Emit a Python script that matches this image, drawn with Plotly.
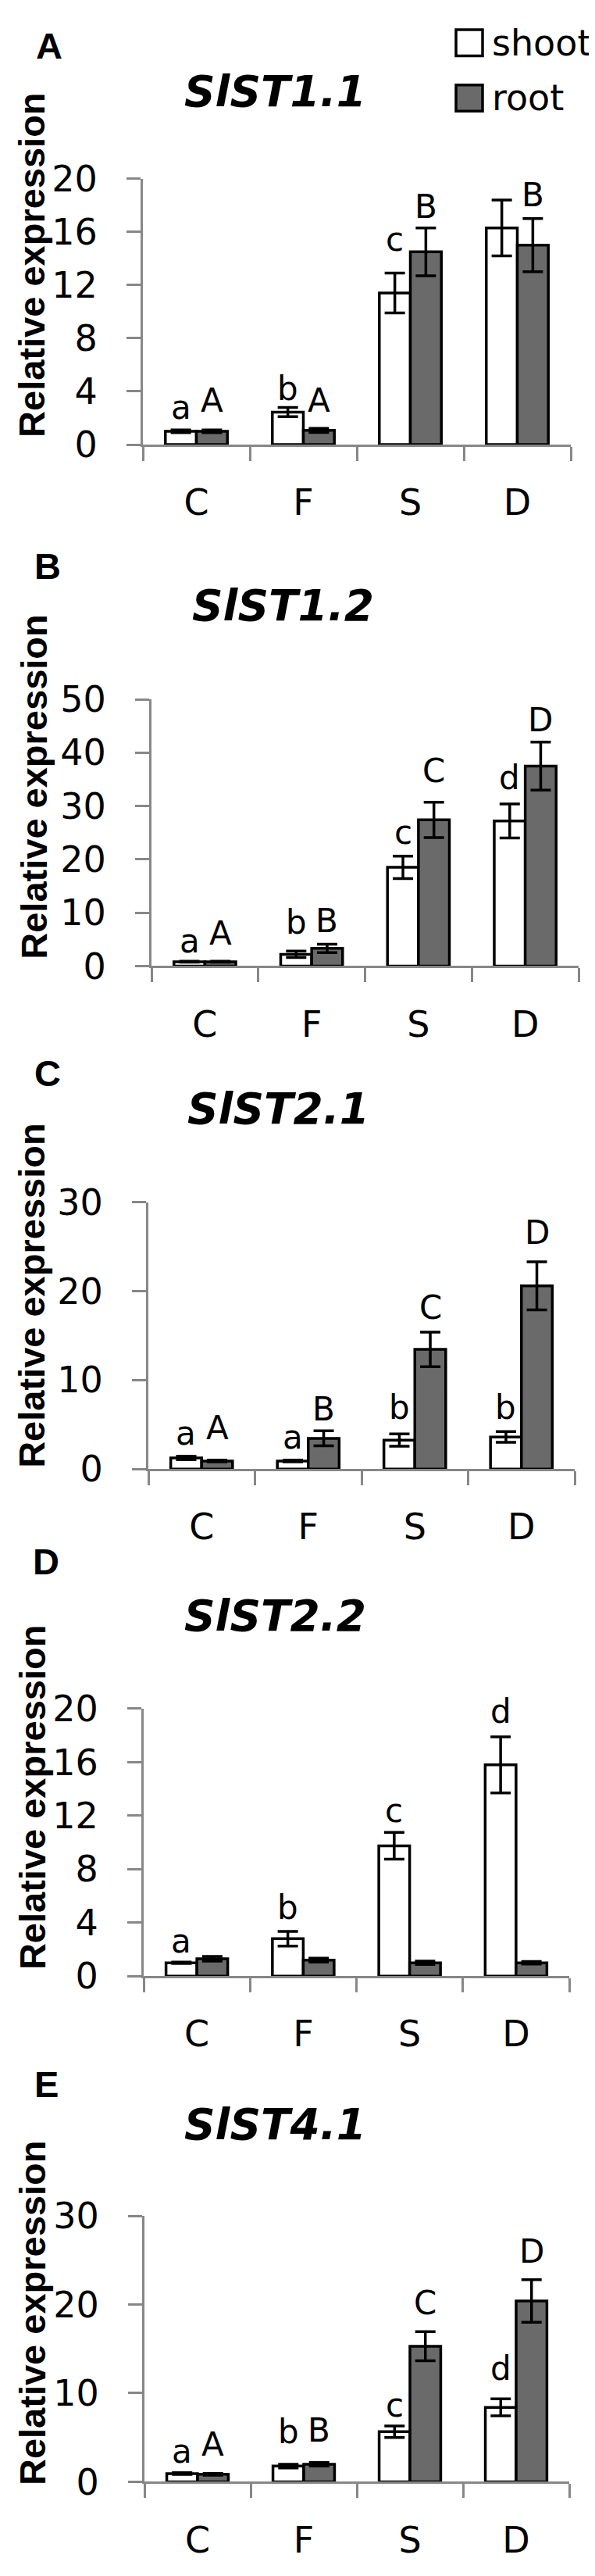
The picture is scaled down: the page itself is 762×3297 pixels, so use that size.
import plotly.graph_objects as go

# ---------------- data ----------------
categories = ["C", "F", "S", "D"]
genes = ["SlST1.1", "SlST1.2", "SlST2.1", "SlST2.2", "SlST4.1"]
panel_letters = ["A", "B", "C", "D", "E"]
y_max = [20, 50, 30, 20, 30]
y_dtick = [4, 10, 10, 4, 10]

# SlST1.1
shoot_1 = [1.0, 2.45, 11.4, 16.3]
shoot_1_err = [0.1, 0.35, 1.5, 2.1]
root_1 = [1.0, 1.07, 14.5, 15.0]
root_1_err = [0.1, 0.15, 1.8, 2.0]
sig_shoot_1 = ["a", "b", "c", "d"]
sig_root_1 = ["A", "A", "B", "B"]
sig_shoot_y_1 = [2.8, 4.2, 15.45, 20.2]
sig_root_y_1 = [3.3, 3.3, 17.9, 18.8]

# SlST1.2
shoot_2 = [0.8, 2.2, 18.5, 27.2]
shoot_2_err = [0.1, 0.6, 2.1, 3.2]
root_2 = [0.8, 3.3, 27.4, 37.5]
root_2_err = [0.1, 0.8, 3.3, 4.5]
sig_shoot_2 = ["a", "b", "c", "d"]
sig_root_2 = ["A", "B", "C", "D"]
sig_shoot_y_2 = [4.7, 8.2, 25.0, 35.3]
sig_root_y_2 = [6.1, 8.5, 36.6, 46.2]

# SlST2.1
shoot_3 = [1.25, 0.9, 3.25, 3.6]
shoot_3_err = [0.2, 0.1, 0.7, 0.6]
root_3 = [0.9, 3.45, 13.45, 20.6]
root_3_err = [0.1, 0.85, 1.95, 2.7]
sig_shoot_3 = ["a", "a", "b", "b"]
sig_root_3 = ["A", "B", "C", "D"]
sig_shoot_y_3 = [4.0, 3.6, 6.9, 6.9]
sig_root_y_3 = [4.6, 6.7, 18.2, 26.6]

# SlST2.2
shoot_4 = [1.0, 2.8, 9.75, 15.8]
shoot_4_err = [0.05, 0.55, 1.0, 2.1]
root_4 = [1.3, 1.2, 1.0, 1.0]
root_4_err = [0.18, 0.15, 0.12, 0.1]
sig_shoot_4 = ["a", "b", "c", "d"]
sig_root_4 = ["", "", "", ""]
sig_shoot_y_4 = [2.6, 5.1, 12.4, 19.8]
sig_root_y_4 = [0, 0, 0, 0]

# SlST4.1
shoot_5 = [0.93, 1.77, 5.65, 8.4]
shoot_5_err = [0.1, 0.2, 0.65, 0.95]
root_5 = [0.85, 1.98, 15.3, 20.4]
root_5_err = [0.1, 0.2, 1.65, 2.4]
sig_shoot_5 = ["a", "b", "c", "d"]
sig_root_5 = ["A", "B", "C", "D"]
sig_shoot_y_5 = [3.45, 5.65, 8.6, 12.8]
sig_root_y_5 = [4.2, 5.8, 20.2, 26.0]

shoot_vals = [shoot_1, shoot_2, shoot_3, shoot_4, shoot_5]
shoot_errs = [shoot_1_err, shoot_2_err, shoot_3_err, shoot_4_err, shoot_5_err]
root_vals = [root_1, root_2, root_3, root_4, root_5]
root_errs = [root_1_err, root_2_err, root_3_err, root_4_err, root_5_err]
sig_shoot = [sig_shoot_1, sig_shoot_2, sig_shoot_3, sig_shoot_4, sig_shoot_5]
sig_root = [sig_root_1, sig_root_2, sig_root_3, sig_root_4, sig_root_5]
sig_shoot_y = [sig_shoot_y_1, sig_shoot_y_2, sig_shoot_y_3, sig_shoot_y_4, sig_shoot_y_5]
sig_root_y = [sig_root_y_1, sig_root_y_2, sig_root_y_3, sig_root_y_4, sig_root_y_5]

# ---------------- layout (page pixels) ----------------
OFF = 8                      # default body margin of the page
WF, HF = 754, 3281           # figure size so that page = 762 x 3297
zero_px = [551, 1229.5, 1884, 2544, 3202]
top_px = [205, 882.5, 1537, 2196, 2856]
x_left = [183, 194, 190, 184, 185]
x_right = [731, 741, 736, 729, 729]
title_cx = [352, 362, 356, 352, 352]
title_cy = [91, 760, 1415, 2075, 2737]
letter_pos = [(63, 32), (61, 709), (61, 1369), (59, 2004), (59, 2685)]
ytitle_pos = [(41, 317), (44, 996), (41, 1658), (41, 2311), (41, 2982)]

AX = "#878787"
GRAY = "#6a6a6a"
TICKFONT = dict(family="DejaVu Sans", size=46, color="black")
LETTERFONT = dict(family="DejaVu Sans", size=42, color="black")


def pxx(v):
    return (v - OFF) / WF


def pxy(v):
    return 1 - (v - OFF) / HF


fig = go.Figure()
annotations = []
shapes = []
BAR_HALF = 0.5 * (1 - 0.42) / 2  # bar centre offset in category units

for i in range(5):
    sfx = "" if i == 0 else str(i + 1)
    xa, ya = "x" + sfx, "y" + sfx
    fig.add_trace(go.Bar(
        x=categories, y=shoot_vals[i], name="shoot", xaxis=xa, yaxis=ya,
        marker=dict(color="white", line=dict(color="black", width=3.5)),
        error_y=dict(type="data", array=shoot_errs[i], color="black", thickness=3.5, width=13),
        showlegend=False,
    ))
    fig.add_trace(go.Bar(
        x=categories, y=root_vals[i], name="root", xaxis=xa, yaxis=ya,
        marker=dict(color=GRAY, line=dict(color="black", width=3.5)),
        error_y=dict(type="data", array=root_errs[i], color="black", thickness=3.5, width=13),
        showlegend=False,
    ))
    fig.update_layout(**{
        "xaxis" + sfx: dict(
            domain=[pxx(x_left[i]), pxx(x_right[i])], anchor=ya,
            type="category", categoryorder="array", categoryarray=categories,
            range=[-0.5, 3.5], showline=True, linecolor=AX, linewidth=3,
            ticks="outside", tickson="boundaries", ticklen=18, tickwidth=3, tickcolor=AX,
            tickfont=TICKFONT, ticklabelstandoff=32, showgrid=False, zeroline=False,
            fixedrange=True,
        ),
        "yaxis" + sfx: dict(
            domain=[pxy(zero_px[i]), pxy(top_px[i])], anchor=xa,
            range=[0, y_max[i]], dtick=y_dtick[i], tick0=0,
            showline=True, linecolor=AX, linewidth=3,
            ticks="outside", ticklen=18, tickwidth=3, tickcolor=AX,
            tickfont=TICKFONT, ticklabelstandoff=28, showgrid=False, zeroline=False,
            fixedrange=True,
        ),
    })
    # significance letters
    for j, c in enumerate(categories):
        if sig_shoot[i][j]:
            annotations.append(dict(
                x=j - BAR_HALF, y=sig_shoot_y[i][j], xref=xa, yref=ya,
                text=sig_shoot[i][j], showarrow=False, font=LETTERFONT,
                xanchor="center", yanchor="middle"))
        if sig_root[i][j]:
            annotations.append(dict(
                x=j + BAR_HALF, y=sig_root_y[i][j], xref=xa, yref=ya,
                text=sig_root[i][j], showarrow=False, font=LETTERFONT,
                xanchor="center", yanchor="middle"))
    # gene title
    annotations.append(dict(
        x=pxx(title_cx[i]), y=pxy(title_cy[i]), xref="paper", yref="paper",
        text=genes[i], showarrow=False, xanchor="center", yanchor="middle",
        font=dict(family="DejaVu Sans", size=55, weight="bold", style="italic", color="black")))
    # panel letter
    annotations.append(dict(
        x=pxx(letter_pos[i][0]), y=pxy(letter_pos[i][1]), xref="paper", yref="paper",
        text=panel_letters[i], showarrow=False, xanchor="center", yanchor="middle",
        font=dict(family="Liberation Sans", size=47, weight="bold", color="black")))
    # y-axis title
    annotations.append(dict(
        x=pxx(ytitle_pos[i][0]), y=pxy(ytitle_pos[i][1]), xref="paper", yref="paper",
        text="Relative expression", textangle=-90, showarrow=False,
        xanchor="center", yanchor="middle",
        font=dict(family="Liberation Sans", size=47, weight="bold", color="black")))

# legend (drawn manually, large swatches)
legend_items = [("shoot", "white", 28), ("root", GRAY, 100)]
for name, col, cy in legend_items:
    shapes.append(dict(type="rect", xref="paper", yref="paper",
                       x0=pxx(584), x1=pxx(618), y0=pxy(cy + 17), y1=pxy(cy - 17),
                       fillcolor=col, line=dict(color="black", width=3.5)))
    annotations.append(dict(x=pxx(628), y=pxy(cy), xref="paper", yref="paper",
                            text=name, showarrow=False, xanchor="left", yanchor="middle",
                            font=dict(family="DejaVu Sans", size=46, color="black")))

fig.update_layout(
    width=WF, height=HF, margin=dict(l=0, r=0, t=0, b=0),
    paper_bgcolor="white", plot_bgcolor="white",
    barmode="group", bargap=0.42, bargroupgap=0,
    annotations=annotations, shapes=shapes, showlegend=False,
)

fig.write_html("out.html")
